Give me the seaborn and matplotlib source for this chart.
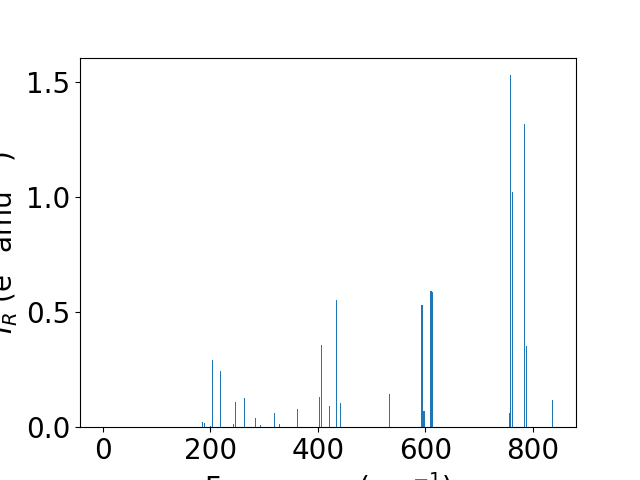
import matplotlib
matplotlib.use("Agg")
import matplotlib.pyplot as plt
import seaborn as sns

# vibrational modes: frequency (cm^-1) and intensity
freqs = [0.0, 184.7, 188.5, 200.4, 203.3, 218.2, 242.4, 246.1, 262.9, 283.3,
         292.7, 318.7, 328.0, 361.5, 403.7, 406.1, 421.0, 434.0, 441.5, 532.7,
         594.0, 597.8, 610.8, 612.6, 757.8, 759.6, 763.3, 785.7, 789.4, 837.8]
intensity = [0.0, 0.023, 0.019, 0.006, 0.293, 0.245, 0.014, 0.110, 0.127, 0.040,
             0.010, 0.062, 0.014, 0.080, 0.132, 0.358, 0.091, 0.552, 0.104, 0.143,
             0.530, 0.070, 0.591, 0.588, 0.060, 1.530, 1.022, 1.320, 0.355, 0.120]

plt.rcParams['font.size'] = 20

fig, ax = plt.subplots(figsize=(6.4, 4.8), dpi=100)
sns.barplot(x=freqs, y=intensity, native_scale=True, orient="x",
            color="#1f77b4", saturation=1, errorbar=None, width=1.2, ax=ax)
ax.set_xlabel("Frequency (cm$^{-1}$)")
ax.set_ylabel("$I_R$ (e$^2$ amu$^{-1}$)")
ax.tick_params(labelsize=20)

fig.savefig("out.png", dpi=100)
